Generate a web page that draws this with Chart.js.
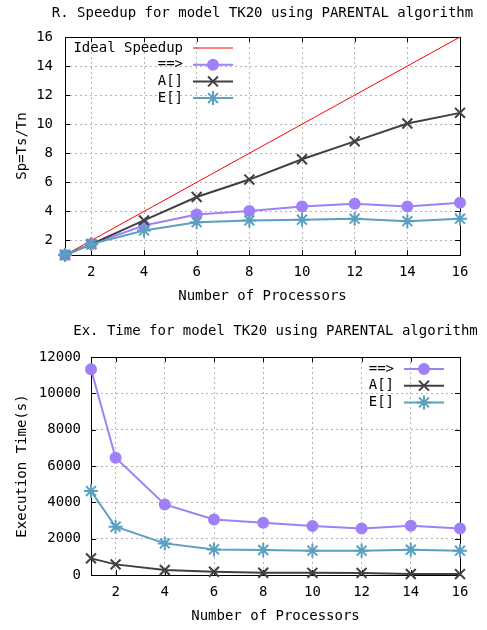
<!DOCTYPE html>
<html>
<head>
<meta charset="utf-8">
<script src="https://cdn.jsdelivr.net/npm/chart.js@4.4.1/dist/chart.umd.min.js"></script>
<style>
  html, body { margin: 0; padding: 0; background: #fff; }
  canvas { display: block; }
</style>
</head>
<body>
<canvas id="speedupChart" width="487" height="310"></canvas>
<canvas id="timeChart" width="487" height="320"></canvas>
<script>
const procs = [1, 2, 4, 6, 8, 10, 12, 14, 16];
const xTicks = [2, 4, 6, 8, 10, 12, 14, 16];
const speedupTicks = [2, 4, 6, 8, 10, 12, 14, 16];
const timeTicks = [0, 1000, 2000, 3000, 4000, 5000, 6000, 7000, 8000, 9000, 10000, 11000, 12000];

const idealSpeedup = [1, 2, 4, 6, 8, 10, 12, 14, 16];
const speedupArrow = [1, 1.75, 3.03, 3.79, 4.02, 4.34, 4.53, 4.34, 4.6];
const speedupA = [1, 1.75, 3.38, 4.99, 6.19, 7.59, 8.82, 10.05, 10.78];
const speedupE = [1, 1.75, 2.69, 3.26, 3.38, 3.43, 3.5, 3.33, 3.5];

const timeArrow = [11330, 6450, 3885, 3060, 2875, 2695, 2565, 2710, 2565];
const timeA = [915, 585, 275, 180, 125, 120, 115, 55, 50];
const timeE = [4620, 2655, 1740, 1410, 1375, 1340, 1340, 1390, 1340];

const COLORS = {
  ideal: "#ff0000",
  arrow: "#9f80f8",
  a: "#404040",
  e: "#5ba0c0",
  grid: "#b4b4b4",
  text: "#000",
};
const FONT = { family: "'DejaVu Sans Mono', 'Liberation Mono', monospace", size: 14 };
const FONT_CSS = "14px 'DejaVu Sans Mono', 'Liberation Mono', monospace";

const pts = (ys) => procs.map((x, i) => ({ x, y: ys[i] }));

// border box + inward tick marks, gnuplot style
const frame = {
  id: "frame",
  beforeDatasetsDraw(chart) {
    const { ctx, chartArea: a, scales } = chart;
    ctx.save();
    ctx.strokeStyle = "#000";
    ctx.lineWidth = 1;
    ctx.strokeRect(a.left + 0.5, a.top + 0.5, a.right - a.left, a.bottom - a.top);
    ctx.beginPath();
    for (const t of scales.x.ticks) {
      const px = Math.round(scales.x.getPixelForValue(t.value)) + 0.5;
      ctx.moveTo(px, a.bottom); ctx.lineTo(px, a.bottom - 5);
      ctx.moveTo(px, a.top); ctx.lineTo(px, a.top + 5);
    }
    for (const t of scales.y.ticks) {
      const py = Math.round(scales.y.getPixelForValue(t.value)) + 0.5;
      ctx.moveTo(a.left, py); ctx.lineTo(a.left + 5, py);
      ctx.moveTo(a.right, py); ctx.lineTo(a.right - 5, py);
    }
    ctx.stroke();
    ctx.restore();
  },
};

// title centred over the plot area, not squeezed
const plotTitle = {
  id: "plotTitle",
  afterDraw(chart, args, opts) {
    const { ctx, chartArea: a } = chart;
    ctx.save();
    ctx.font = FONT_CSS;
    ctx.fillStyle = COLORS.text;
    ctx.textAlign = "center";
    ctx.textBaseline = "middle";
    ctx.fillText(opts.text, (a.left + a.right) / 2, opts.y);
    ctx.restore();
  },
};

// key drawn inside the plot, text right-aligned then a line sample
const gnuKey = {
  id: "gnuKey",
  afterDraw(chart, args, opts) {
    const { ctx, chartArea: a } = chart;
    const right = opts.side === "left" ? a.left + opts.textRight : a.right - opts.textRight;
    ctx.save();
    ctx.font = FONT_CSS;
    chart.data.datasets.forEach((ds, i) => {
      const y = a.top + opts.top + i * opts.rowGap;
      ctx.fillStyle = COLORS.text;
      ctx.textAlign = "right";
      ctx.textBaseline = "middle";
      ctx.fillText(ds.label, right, y);
      const x0 = right + 10, x1 = x0 + 40;
      ctx.strokeStyle = ds.borderColor;
      ctx.lineWidth = ds.borderWidth;
      ctx.beginPath(); ctx.moveTo(x0, y); ctx.lineTo(x1, y); ctx.stroke();
      if (ds.pointRadius > 0) {
        ctx.fillStyle = ds.pointBackgroundColor;
        ctx.strokeStyle = ds.borderColor;
        ctx.lineWidth = ds.pointBorderWidth;
        Chart.helpers.drawPoint(ctx, {
          pointStyle: ds.pointStyle, radius: ds.pointRadius,
          borderWidth: ds.pointBorderWidth, rotation: 0,
        }, (x0 + x1) / 2, y);
      }
    });
    ctx.restore();
  },
};

function series(label, data, color, style, radius, order) {
  return {
    label, data, order,
    borderColor: color,
    backgroundColor: color,
    pointBackgroundColor: color,
    pointBorderColor: color,
    borderWidth: 2,
    pointStyle: style,
    pointRadius: radius,
    pointBorderWidth: 2,
    tension: 0,
    clip: false,
  };
}

function scalesFor(o) {
  return {
    x: {
      type: "linear", min: 1, max: 16,
      afterBuildTicks: (s) => { s.ticks = xTicks.map((v) => ({ value: v })); },
      afterFit: (s) => { s.height = 55; },
      grid: { color: COLORS.grid, drawTicks: false },
      border: { display: false, dash: [2, 3] },
      ticks: { color: COLORS.text, font: FONT, padding: 9, maxRotation: 0, callback: (v) => String(v) },
      title: { display: true, text: "Number of Processors", color: COLORS.text, font: FONT, padding: { top: 0, bottom: 5 } },
    },
    y: {
      type: "linear", min: o.min, max: o.max,
      afterBuildTicks: (s) => { s.ticks = o.ticks.map((v) => ({ value: v })); },
      afterFit: (s) => { s.width = o.width; },
      grid: { color: COLORS.grid, drawTicks: false },
      border: { display: false, dash: [2, 3] },
      ticks: { color: COLORS.text, font: FONT, padding: o.tickPad, callback: (v) => String(v) },
      title: { display: true, text: o.title, color: COLORS.text, font: FONT, padding: { top: 14, bottom: 0 } },
    },
  };
}

new Chart(document.getElementById("speedupChart"), {
  type: "line",
  data: {
    datasets: [
      { ...series("Ideal Speedup", pts(idealSpeedup), COLORS.ideal, "line", 0, 3), borderWidth: 1 },
      series("==>", pts(speedupArrow), COLORS.arrow, "circle", 5, 2),
      series("A[]", pts(speedupA), COLORS.a, "crossRot", 7, 1),
      series("E[]", pts(speedupE), COLORS.e, "star", 7, 0),
    ],
  },
  options: {
    responsive: false, animation: false,
    layout: { padding: { left: 0, right: 27, top: 37, bottom: 0 } },
    scales: scalesFor({ min: 1, max: 16, ticks: speedupTicks, width: 65, tickPad: 12, title: "Sp=Ts/Tn" }),
    plugins: {
      legend: { display: false },
      tooltip: { enabled: false },
      title: { display: false },
      plotTitle: { text: "R. Speedup for model TK20 using PARENTAL algorithm", y: 13 },
      gnuKey: { side: "left", textRight: 118, top: 11, rowGap: 16.7 },
    },
  },
  plugins: [frame, plotTitle, gnuKey],
});

new Chart(document.getElementById("timeChart"), {
  type: "line",
  data: {
    datasets: [
      series("==>", pts(timeArrow), COLORS.arrow, "circle", 5, 2),
      series("A[]", pts(timeA), COLORS.a, "crossRot", 7, 1),
      series("E[]", pts(timeE), COLORS.e, "star", 7, 0),
    ],
  },
  options: {
    responsive: false, animation: false,
    layout: { padding: { left: 0, right: 27, top: 47, bottom: 0 } },
    scales: scalesFor({ min: 0, max: 12000, ticks: timeTicks, width: 91, tickPad: 10, title: "Execution Time(s)" }),
    plugins: {
      legend: { display: false },
      tooltip: { enabled: false },
      title: { display: false },
      plotTitle: { text: "Ex. Time for model TK20 using PARENTAL algorithm", y: 21 },
      gnuKey: { side: "right", textRight: 66, top: 12, rowGap: 16.7 },
    },
  },
  plugins: [frame, plotTitle, gnuKey],
});
</script>
</body>
</html>
